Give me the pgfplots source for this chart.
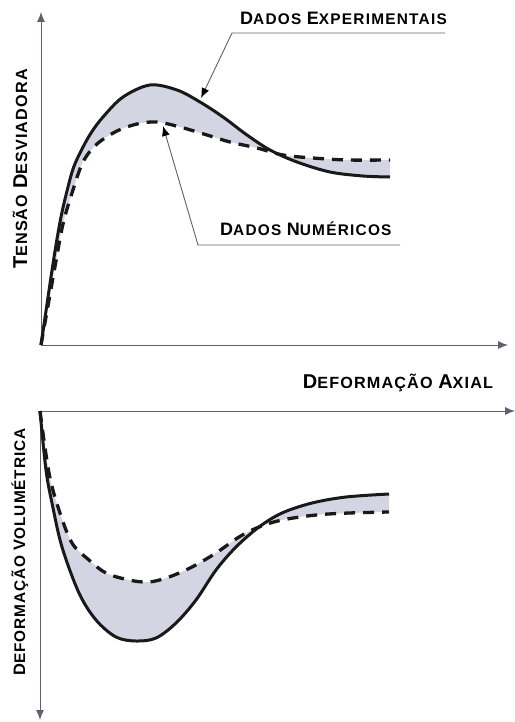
\documentclass[border=0pt]{standalone}
\usepackage{pgfplots}
\pgfplotsset{compat=1.18}
\usepgfplotslibrary{fillbetween}
\usetikzlibrary{arrows.meta}
\usepackage{fontspec}
\setmainfont{Liberation Sans}

\definecolor{curve}{RGB}{25,25,25}
\definecolor{axisgray}{RGB}{95,95,110}
\definecolor{shade}{RGB}{211,213,226}

% small-caps look: larger initial capital, smaller capitals for the rest
\newcommand\capsize{21bp}
\newcommand\Cap[1]{{\fontsize{\capsize}{\capsize}\selectfont #1}}
\newcommand\labfont[3]{\bfseries\renewcommand\capsize{#1}\fontsize{#2}{#2}\selectfont\addfontfeature{LetterSpace=#3}}

\tikzset{
  pointer/.style={axisgray, line width=0.9bp, -{Latex[length=10bp,width=8bp,color=black]}},
}

\begin{document}
\begin{tikzpicture}

% ---- deviatoric stress vs axial strain ----
\begin{axis}[
  at={(41bp,-345bp)}, anchor=origin,
  x=10bp, y=10bp,
  xmin=0, xmax=46.7, ymin=0, ymax=33.3,
  axis lines=left, ticks=none, clip=false, set layers,
  axis line style={axisgray, line width=1bp, -{Latex[length=10bp,width=8bp]}},
]
\addplot[name path=expA, draw=curve, line width=3bp, smooth, tension=0.55] coordinates {
  (0,0) (0.5,3.4) (1.0,6.8) (1.5,10.0) (2.0,12.8) (2.5,15.0) (3.2,17.6)
  (4.0,19.4) (5.0,21.2) (6.2,22.8) (8.2,24.8) (10.9,26.0) (13.6,25.5) (15.9,24.3)
  (18.2,22.8) (20.6,21.0) (22.9,19.5) (25.6,18.3) (28.9,17.3) (32.2,16.9) (34.9,16.8)
};
\addplot[name path=numA, draw=curve, line width=3.3bp, dash pattern=on 11bp off 8bp, smooth, tension=0.55] coordinates {
  (0,0) (0.5,2.8) (1.0,5.6) (1.5,8.4) (2.2,12.1) (3.1,15.2) (4.2,18.3)
  (5.6,20.1) (7.6,21.4) (9.6,22.1) (11.6,22.3) (13.9,21.8) (16.6,21.0)
  (18.9,20.3) (21.6,19.7) (24.2,19.0) (27.2,18.7) (30.6,18.5) (34.9,18.5)
};
\addplot[fill=shade, draw=none] fill between[of=expA and numA];

\draw[pointer] (axis cs:40.4,31.2) -- (axis cs:19.1,31.2) -- (axis cs:16.0,24.7);
\node[anchor=base west, inner sep=0pt, font=\labfont{18bp}{15.4bp}{8}] at (axis cs:19.9,32.0)
  {\Cap{D}ADOS \Cap{E}XPERIMENTAIS};

\draw[pointer] (axis cs:35.9,10.0) -- (axis cs:15.7,10.0) -- (axis cs:12.2,21.9);
\node[anchor=base west, inner sep=0pt, font=\labfont{18bp}{15.4bp}{8}] at (axis cs:17.9,11.0)
  {\Cap{D}ADOS \Cap{N}UMÉRICOS};

\node[rotate=90, anchor=base, inner sep=0pt, font=\labfont{20bp}{16.2bp}{7}] at (axis cs:-1.4,17.6)
  {\Cap{T}ENSÃO \Cap{D}ESVIADORA};
\node[anchor=base, inner sep=0pt, font=\labfont{20bp}{16.2bp}{7}] at (axis cs:35.7,-4.3)
  {\Cap{D}EFORMAÇÃO \Cap{A}XIAL};
\end{axis}

% ---- volumetric strain vs axial strain ----
\begin{axis}[
  at={(40bp,-411bp)}, anchor=origin,
  x=10bp, y=10bp, y dir=reverse,
  xmin=0, xmax=47.5, ymin=0, ymax=30.9,
  axis x line=middle, axis y line=left,
  ticks=none, clip=false, set layers,
  axis line style={axisgray, line width=1bp, -{Latex[length=10bp,width=8bp]}},
]
\addplot[name path=expB, draw=curve, line width=3bp, smooth, tension=0.55] coordinates {
  (0,0) (0.6,5.9) (1.2,9.2) (2.2,13.6) (3.9,18.2) (5.6,20.9) (7.6,22.6)
  (9.6,23.0) (11.6,22.7) (13.6,21.2) (15.6,18.9) (17.6,15.9) (19.6,13.6)
  (21.9,11.6) (24.2,10.2) (27.2,9.2) (30.6,8.6) (34.9,8.3)
};
\addplot[name path=numB, draw=curve, line width=3.3bp, dash pattern=on 11bp off 8bp, smooth, tension=0.55] coordinates {
  (0,0) (0.9,6.2) (1.9,9.9) (3.2,13.2) (4.9,14.9) (6.6,16.2) (8.9,16.9)
  (10.9,17.1) (12.9,16.6) (15.2,15.6) (17.6,14.2) (19.9,12.6) (21.9,11.6)
  (24.2,10.9) (27.6,10.4) (30.9,10.2) (34.9,10.1)
};
\addplot[fill=shade, draw=none] fill between[of=expB and numB];

\node[rotate=90, anchor=base, inner sep=0pt, font=\labfont{16.5bp}{15.4bp}{6}] at (axis cs:-1.5,14.1)
  {\Cap{D}EFORMAÇÃO \Cap{V}OLUMÉTRICA};
\end{axis}

% page = 515 x 722 bp
\pgfresetboundingbox
\useasboundingbox (0,0) rectangle (515bp,-722bp);
\end{tikzpicture}
\end{document}
